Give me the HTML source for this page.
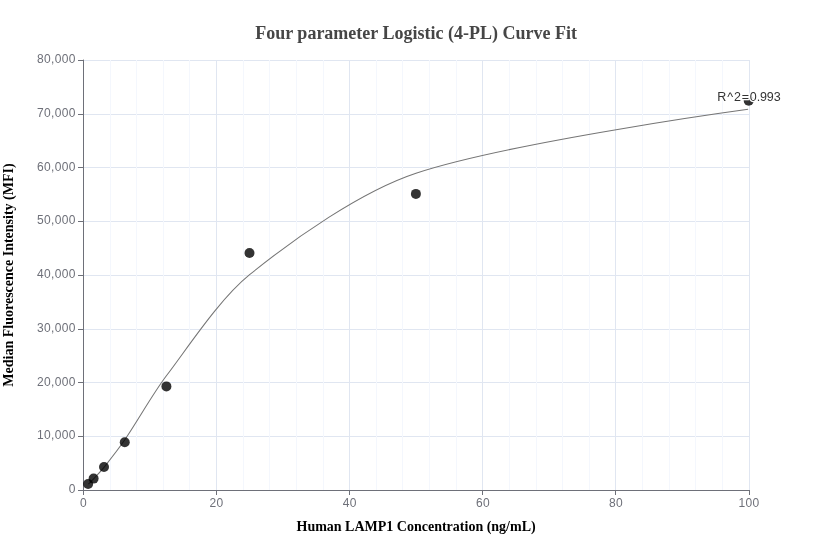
<!DOCTYPE html>
<html lang="en">
<head>
<meta charset="utf-8">
<title>Four parameter Logistic (4-PL) Curve Fit</title>
<style>
html,body{margin:0;padding:0;background:#fff;}
body{width:832px;height:560px;overflow:hidden;font-family:"Liberation Sans",sans-serif;}
svg{display:block;will-change:transform;}
.tick{font-family:"Liberation Sans",sans-serif;font-size:12px;fill:#6E7079;letter-spacing:0.33px;}
.ttl{font-family:"Liberation Serif",serif;font-weight:bold;font-size:18px;fill:#464646;}
.axn{font-family:"Liberation Serif",serif;font-weight:bold;font-size:14px;fill:#000;}
.lbl{font-family:"Liberation Sans",sans-serif;font-size:12.5px;fill:#333;stroke:#fff;stroke-width:2.6px;stroke-linejoin:round;paint-order:stroke fill;letter-spacing:0.25px;}
</style>
</head>
<body>
<svg width="832" height="560" viewBox="0 0 832 560">
<rect x="0" y="0" width="832" height="560" fill="#ffffff"/>
<g fill="#E0E6F1" shape-rendering="crispEdges">
<rect x="216" y="60" width="1" height="430"/>
<rect x="349" y="60" width="1" height="430"/>
<rect x="482" y="60" width="1" height="430"/>
<rect x="615" y="60" width="1" height="430"/>
<rect x="749" y="60" width="1" height="430"/>
<rect x="83" y="436" width="667" height="1"/>
<rect x="83" y="382" width="667" height="1"/>
<rect x="83" y="329" width="667" height="1"/>
<rect x="83" y="275" width="667" height="1"/>
<rect x="83" y="221" width="667" height="1"/>
<rect x="83" y="167" width="667" height="1"/>
<rect x="83" y="114" width="667" height="1"/>
<rect x="83" y="60" width="667" height="1"/>
</g>
<g fill="#F4F7FD" shape-rendering="crispEdges">
<rect x="110" y="60" width="1" height="430"/>
<rect x="136" y="60" width="1" height="430"/>
<rect x="163" y="60" width="1" height="430"/>
<rect x="189" y="60" width="1" height="430"/>
<rect x="243" y="60" width="1" height="430"/>
<rect x="269" y="60" width="1" height="430"/>
<rect x="296" y="60" width="1" height="430"/>
<rect x="323" y="60" width="1" height="430"/>
<rect x="376" y="60" width="1" height="430"/>
<rect x="402" y="60" width="1" height="430"/>
<rect x="429" y="60" width="1" height="430"/>
<rect x="456" y="60" width="1" height="430"/>
<rect x="509" y="60" width="1" height="430"/>
<rect x="536" y="60" width="1" height="430"/>
<rect x="562" y="60" width="1" height="430"/>
<rect x="589" y="60" width="1" height="430"/>
<rect x="642" y="60" width="1" height="430"/>
<rect x="669" y="60" width="1" height="430"/>
<rect x="695" y="60" width="1" height="430"/>
<rect x="722" y="60" width="1" height="430"/>
</g>
<g fill="#6E7079" shape-rendering="crispEdges">
<rect x="83" y="60" width="1" height="431"/>
<rect x="83" y="490" width="667" height="1"/>
<rect x="83" y="59" width="1" height="1" fill-opacity="0.4"/>
<rect x="83" y="491" width="1" height="4"/>
<rect x="216" y="491" width="1" height="4"/>
<rect x="349" y="491" width="1" height="4"/>
<rect x="482" y="491" width="1" height="4"/>
<rect x="615" y="491" width="1" height="4"/>
<rect x="749" y="491" width="1" height="4"/>
<rect x="78" y="490" width="5" height="1"/>
<rect x="78" y="436" width="5" height="1"/>
<rect x="78" y="382" width="5" height="1"/>
<rect x="78" y="329" width="5" height="1"/>
<rect x="78" y="275" width="5" height="1"/>
<rect x="78" y="221" width="5" height="1"/>
<rect x="78" y="167" width="5" height="1"/>
<rect x="78" y="114" width="5" height="1"/>
<rect x="78" y="60" width="5" height="1"/>
</g>
<g class="tick">
<text x="83.5" y="507" text-anchor="middle">0</text>
<text x="216.6" y="507" text-anchor="middle">20</text>
<text x="349.7" y="507" text-anchor="middle">40</text>
<text x="482.9" y="507" text-anchor="middle">60</text>
<text x="616.0" y="507" text-anchor="middle">80</text>
<text x="749.1" y="507" text-anchor="middle">100</text>
<text x="75.8" y="493" text-anchor="end">0</text>
<text x="75.8" y="439" text-anchor="end">10,000</text>
<text x="75.8" y="386" text-anchor="end">20,000</text>
<text x="75.8" y="332" text-anchor="end">30,000</text>
<text x="75.8" y="278" text-anchor="end">40,000</text>
<text x="75.8" y="224" text-anchor="end">50,000</text>
<text x="75.8" y="171" text-anchor="end">60,000</text>
<text x="75.8" y="117" text-anchor="end">70,000</text>
<text x="75.8" y="63" text-anchor="end">80,000</text>
</g>
<path d="M88.40 484.20 C88.40 484.20 92.07 480.45 93.60 478.80 C96.75 475.38 101.10 470.93 104.00 467.30 C110.46 459.23 118.98 448.34 124.80 439.80 C137.70 420.89 152.61 394.04 166.40 375.80 C190.05 344.51 219.51 299.12 249.60 274.70 C294.39 238.34 361.32 191.34 416.00 173.20 C510.87 141.72 748.10 109.30 748.10 109.30" fill="none" stroke="#757575" stroke-width="1.05"/>
<g fill="#000" fill-opacity="0.8">
<circle cx="748.70" cy="100.70" r="5"/>
<circle cx="415.90" cy="193.90" r="5"/>
<circle cx="249.50" cy="253.00" r="5"/>
<circle cx="166.40" cy="386.40" r="5"/>
<circle cx="124.75" cy="442.25" r="5"/>
<circle cx="104.00" cy="467.00" r="5"/>
<circle cx="93.60" cy="478.60" r="5"/>
<circle cx="88.10" cy="484.00" r="5"/>
</g>
<text class="lbl" x="717.3" y="100.8"><tspan style="letter-spacing:0.85px">R^2=</tspan><tspan style="letter-spacing:-0.12px">0.993</tspan></text>
<text class="ttl" x="416.1" y="38.8" text-anchor="middle">Four parameter Logistic (4-PL) Curve Fit</text>
<text class="axn" x="416.1" y="530.6" text-anchor="middle">Human LAMP1 Concentration (ng/mL)</text>
<text class="axn" transform="translate(13,275) rotate(-90)" text-anchor="middle">Median Fluorescence Intensity (MFI)</text>
</svg>
</body>
</html>
